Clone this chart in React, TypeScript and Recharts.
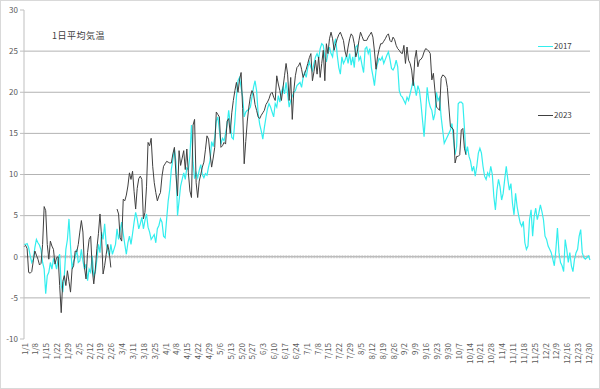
import React from "react";
import { LineChart, Line, XAxis, YAxis, CartesianGrid, ReferenceLine } from "recharts";

// Leap-year calendar used for the category axis (labels M/D)
const monthLengths = [31, 29, 31, 30, 31, 30, 31, 31, 30, 31, 30, 31];
const categories: string[] = [];
monthLengths.forEach((len, m) => {
  for (let d = 1; d <= len; d++) categories.push(`${m + 1}/${d}`);
});

const yTicks = [-10, -5, 0, 5, 10, 15, 20, 25, 30];
const gridValues = [-5, 5, 10, 15, 20, 25];

const temps2017: number[] = [
  1.5, 1.5, 1.6, 1.1, 0.1, -0.7, -0.3, 1.1, 2.1, 1.7,
  1.4, 0.8, -0.7, -1.5, -4.5, -2.3, -1.9, -0.7, -1.5, -0.3,
  -0.7, -1.5, -0.3, 0.3, -3.5, -4.3, -2.3, 0.9, 2.1, 4.6,
  1.3, -1.5, -0.5, -0.1, 0.9, -0.7, -0.5, 0.9, -0.5, -1.5,
  -0.9, -2.9, -1.5, -1.9, 0.1, -2.3, -1.9, -0.3, 1.5, 0.5,
  3.0, 2.1, 4.0, 1.5, 0.8, 0.1, 1.5, 0.3, 0.9, 1.5,
  3.4, 2.1, 3.2, 4.2, 2.8, 1.5, 0.3, 1.7, 2.5, 1.5,
  2.8, 4.2, 5.4, 4.6, 3.4, 4.0, 4.8, 3.4, 4.4, 5.2,
  3.6, 3.0, 2.1, 2.4, 2.7, 1.7, 3.4, 3.8, 4.6, 4.2,
  2.5, 2.3, 4.6, 6.8, 8.2, 10.6, 11.8, 13.1, 11.5, 5.0,
  6.8, 8.6, 9.4, 10.2, 9.4, 10.8, 10.6, 12.3, 16.0, 11.5,
  9.5, 10.2, 9.6, 10.5, 11.2, 10.0, 9.6, 10.1, 9.9, 10.9,
  11.7, 14.0, 13.4, 14.5, 16.5, 17.0, 15.4, 13.7, 14.4, 14.1,
  15.0, 16.1, 17.8, 16.1, 14.5, 14.3, 16.5, 19.4, 21.4, 21.8,
  20.6, 19.4, 17.0, 17.6, 17.8, 17.9, 18.2, 19.4, 20.6, 21.4,
  20.2, 17.4, 16.1, 15.3, 14.3, 15.7, 16.9, 18.0, 18.6, 18.2,
  17.6, 17.0, 18.6, 18.2, 19.6, 18.8, 20.0, 20.6, 19.8, 21.2,
  19.8, 18.2, 19.0, 19.5, 20.0, 20.2, 20.8, 21.0, 21.2, 20.6,
  21.8, 22.4, 21.8, 23.0, 23.7, 23.0, 22.6, 23.5, 24.3, 24.7,
  24.1, 25.3, 25.9, 25.7, 24.3, 23.7, 24.7, 25.5, 24.7, 24.3,
  25.9, 26.5, 24.5, 23.0, 22.2, 24.3, 23.5, 23.9, 24.5, 23.5,
  24.7, 23.3, 24.3, 23.0, 25.5, 25.7, 23.9, 24.3, 23.3, 22.4,
  25.3, 25.5, 24.7, 25.3, 23.0, 22.0, 20.8, 22.6, 23.5, 24.1,
  23.9, 24.3, 23.5, 24.0, 24.5, 24.9, 24.0, 22.9, 22.7, 23.1,
  23.9, 23.1, 20.2, 19.6, 19.4, 19.0, 18.6, 19.4, 19.0, 19.8,
  20.6, 21.5, 20.6, 19.6, 20.8, 20.2, 18.6, 16.6, 14.6, 17.4,
  20.6, 19.0, 18.2, 17.8, 16.6, 17.4, 20.0, 19.0, 19.4, 17.0,
  15.4, 13.8, 14.2, 14.6, 15.0, 15.4, 16.2, 14.2, 12.4, 13.4,
  18.6, 18.8, 18.8, 18.6, 15.7, 12.4, 13.4, 12.2, 11.6, 10.4,
  11.0, 9.8, 11.0, 12.6, 13.2, 12.6, 11.0, 9.8, 9.4, 10.2,
  9.8, 11.0, 10.0, 7.3, 5.7, 8.1, 9.4, 8.5, 6.9, 7.7,
  9.4, 11.0, 9.4, 8.1, 8.9, 6.5, 5.1, 7.7, 6.1, 5.0,
  4.1, 3.7, 4.3, 1.7, 0.9, 1.3, 4.5, 5.7, 2.5, 4.9,
  5.9, 4.5, 5.3, 6.3, 5.5, 4.5, 2.5, 2.1, 1.3, 0.9,
  0.5, -0.3, -1.1, 0.9, 3.5, 0.5, -0.7, -1.1, -1.8, 2.1,
  0.9, -0.7, 0.5, -1.1, -1.8, -0.3, 0.5, 0.9, 2.5, 3.3,
  0.5, -0.1, -0.3, -0.1, 0.1, -0.4,
];

const temps2023: (number | null)[] = [
  1.2, 1.4, 1.0, -1.9, -2.0, -1.8, -0.5, 0.7, 0.2, -0.3,
  -1.0, -0.8, 1.5, 6.1, 5.6, 1.5, -0.3, 1.9, 1.3, 0.9,
  -0.9, -0.1, 0.0, -3.5, -6.8, -3.0, -2.3, -3.5, -1.7, -3.0,
  -4.3, -1.5, -1.1, 0.7, 0.6, 1.5, 3.0, 4.4, 3.0, -1.3,
  -2.7, 0.5, 2.1, 2.5, -1.5, -3.3, -1.5, 1.0, 2.8, 5.2,
  2.5, -2.1, -1.1, 0.3, 1.5, 0.5, -1.3, null, null, null,
  5.8, 5.2, 2.3, 1.9, 7.0, 6.8, 7.5, 8.6, 10.2, 9.4,
  10.4, 7.9, 5.8, 8.3, 9.5, 9.8, 9.4, 4.6, 5.4, 8.5,
  13.9, 13.5, 14.4, 11.0, 9.0, 7.8, 6.8, 7.4, 7.8, 9.8,
  11.0, 11.3, 11.6, 11.5, 11.4, 11.4, 12.5, 13.3, 10.0, 7.4,
  12.9, 11.1, 12.0, 12.9, 10.6, 13.1, 10.2, 8.0, 7.2, 16.0,
  16.7, 9.0, 7.2, 9.2, 10.0, 10.9, 11.5, 13.0, 14.7, 14.3,
  12.5, 10.9, 12.0, 13.3, 17.6, 17.3, 17.0, 13.3, 13.5, 13.9,
  13.7, 16.5, 16.8, 15.0, 17.5, 19.0, 20.2, 21.2, 20.0, 21.5,
  22.4, 18.0, 11.3, 14.0, 16.5, 18.2, 19.5, 20.2, 19.8, 18.5,
  17.8, 17.0, 16.8, 17.2, 17.5, 17.8, 18.5, 18.8, 19.2, 19.8,
  20.0, 19.4, 19.0, 22.0, 21.0, 20.2, 19.0, 20.5, 22.0, 23.5,
  22.2, 19.0, 21.8, 16.7, 20.2, 22.0, 23.0, 23.2, 23.6, 22.8,
  21.8, 22.3, 22.8, 23.5, 24.2, 24.7, 21.4, 22.5, 23.9, 22.2,
  24.3, 21.8, 23.5, 25.1, 21.4, 25.9, 24.7, 26.5, 27.3, 26.5,
  25.1, 25.9, 26.5, 27.0, 27.3, 26.8, 26.3, 25.0, 24.3, 25.5,
  26.5, 27.1, 26.8, 25.9, 24.3, 25.0, 26.3, 27.3, 26.8, 26.3,
  26.3, 26.3, 26.7, 27.0, 27.3, 26.7, 25.0, 22.8, 24.3, 25.2,
  25.9, 25.9, 26.2, 26.5, 26.9, 27.1, 26.3, 26.1, 26.7, 26.4,
  25.7, 25.3, 25.1, 24.8, 24.7, 25.7, 23.5, 25.5, 23.9, 23.5,
  22.7, 20.8, 24.0, 25.1, 23.1, 23.9, 24.0, 24.3, 24.9, 25.3,
  25.2, 25.0, 24.7, 21.5, 22.3, 20.2, 18.2, 18.0, 17.8, 21.7,
  22.1, 22.0, 21.7, 20.6, 18.2, 15.8, 15.7, 15.4, 11.4, 12.2,
  12.2, 12.4, 15.4, 15.6, 13.2, 12.4,
];

const data = categories.map((d, i) => ({
  d,
  y2017: i < temps2017.length ? temps2017[i] : null,
  y2023: i < temps2023.length ? temps2023[i] : null,
}));

const FONT = "'Noto Sans CJK JP', 'Noto Sans', sans-serif";
const CYAN = "#33eeee";
const DARK = "#404040";

const XTick = (props: any) => {
  const { x, y, payload } = props;
  return (
    <text
      transform={`translate(${x},${y}) rotate(-90)`}
      textAnchor="end"
      dominantBaseline="central"
      fontSize={8}
      fill="#595959"
      fontFamily={FONT}
    >
      {payload.value}
    </text>
  );
};

export default function App() {
  return (
    <div style={{ position: "relative", width: 600, height: 389, background: "#fff", fontFamily: FONT }}>
      <style>{`body{margin:0}`}</style>
      <div
        style={{
          position: "absolute",
          left: 0,
          top: 0,
          width: 598,
          height: 387,
          border: "1px solid #d9d9d9",
          pointerEvents: "none",
        }}
      />
      <LineChart width={600} height={389} data={data} margin={{ top: 10, right: 10, bottom: 0, left: 0 }}>
        <CartesianGrid vertical={false} horizontalValues={gridValues} stroke="#b3b3b3" />
        <XAxis
          dataKey="d"
          interval={6}
          tick={<XTick />}
          tickSize={0}
          tickMargin={4}
          axisLine={false}
          tickLine={false}
          height={50}
        />
        <YAxis
          domain={[-10, 30]}
          ticks={yTicks}
          interval={0}
          width={24}
          tickSize={4}
          tickMargin={2}
          axisLine={{ stroke: "#bfbfbf" }}
          tickLine={{ stroke: "#bfbfbf" }}
          tick={{ fontSize: 8, fill: "#595959", fontFamily: FONT }}
        />
        <ReferenceLine y={0} stroke="#a6a6a6" strokeWidth={1} />
        <ReferenceLine y={0} stroke="#bdbdbd" strokeWidth={3} strokeDasharray="0.7 0.852" />
        <Line
          type="linear"
          dataKey="y2017"
          stroke={CYAN}
          strokeWidth={1.2}
          dot={false}
          isAnimationActive={false}
        />
        <Line
          type="linear"
          dataKey="y2023"
          stroke={DARK}
          strokeWidth={1}
          dot={false}
          connectNulls={false}
          isAnimationActive={false}
        />
      </LineChart>
      <div style={{ position: "absolute", left: 52, top: 29, fontSize: 9, color: "#404040", letterSpacing: 0.5 }}>
        1日平均気温
      </div>
      <div style={{ position: "absolute", left: 538, top: 40, display: "flex", alignItems: "center" }}>
        <div style={{ width: 15, height: 0, borderTop: `1px solid ${CYAN}` }} />
        <span style={{ fontSize: 8, color: "#404040", marginLeft: 1, lineHeight: "12px" }}>2017</span>
      </div>
      <div style={{ position: "absolute", left: 538, top: 109, display: "flex", alignItems: "center" }}>
        <div style={{ width: 15, height: 0, borderTop: `1px solid ${DARK}` }} />
        <span style={{ fontSize: 8, color: "#404040", marginLeft: 1, lineHeight: "12px" }}>2023</span>
      </div>
    </div>
  );
}
